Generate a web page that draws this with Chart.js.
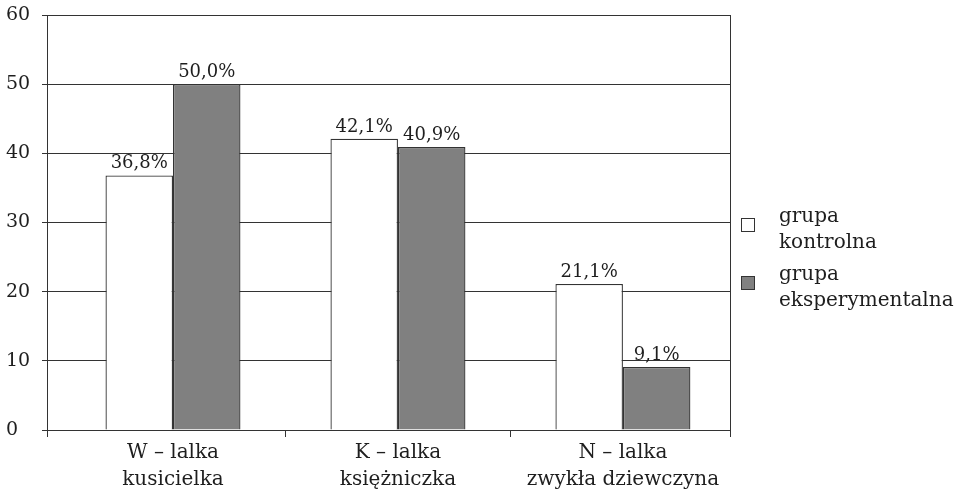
<!DOCTYPE html>
<html>
<head>
<meta charset="utf-8">
<script src="https://cdn.jsdelivr.net/npm/chart.js@4.4.1/dist/chart.umd.min.js"></script>
<style>
  html, body { margin: 0; padding: 0; background: #fff; }
  #wrap { position: relative; width: 961px; height: 490px; }
  #legend { position: absolute; left: 741px; top: 202px; font-family: "DejaVu Serif", serif; font-size: 20px; color: #1e1e1e; }
  .item { position: relative; padding-left: 38px; line-height: 26px; margin-bottom: 6px; }
  .sw { position: absolute; left: 0; top: 16px; width: 12px; height: 12px; border: 1px solid #333; }
</style>
</head>
<body>
<div id="wrap">
  <canvas id="c" width="961" height="490"></canvas>
  <div id="legend"></div>
</div>
<script>
const categories = [["W – lalka", "kusicielka"], ["K – lalka", "księżniczka"], ["N – lalka", "zwykła dziewczyna"]];
const seriesNames = [["grupa", "kontrolna"], ["grupa", "eksperymentalna"]];
const controlValues = [36.8, 42.1, 21.1];
const experimentalValues = [50.0, 40.9, 9.1];
const yTicks = [0, 10, 20, 30, 40, 50, 60];
const fills = ["#ffffff", "#808080"];

const FONT = "'DejaVu Serif', serif";
const LINE = "#333333";
const TEXT = "#1e1e1e";
const XMIN = -0.56, XMAX = 2.476;
const boundaries = [XMIN, 0.5, 1.5, XMAX];

const labelPlugin = {
  id: 'barLabels',
  afterDatasetsDraw(chart) {
    const ctx = chart.ctx;
    ctx.save();
    ctx.font = "18px " + FONT;
    ctx.fillStyle = TEXT;
    ctx.textAlign = "center";
    ctx.textBaseline = "alphabetic";
    chart.data.datasets.forEach((ds, di) => {
      const meta = chart.getDatasetMeta(di);
      meta.data.forEach((el, i) => {
        const v = ds.data[i].y;
        ctx.fillText(v.toFixed(1).replace('.', ',') + '%', el.x, el.y - 7);
      });
    });
    ctx.restore();
  }
};

const datasets = [controlValues, experimentalValues].map((vals, si) => ({
  label: seriesNames[si].join(' '),
  data: vals.map((v, i) => ({ x: i, y: v })),
  backgroundColor: fills[si],
  borderColor: "#333333",
  borderWidth: 1.3,
  xAxisID: 'x',
  yAxisID: 'y',
  categoryPercentage: 0.6,
  barPercentage: 1.0
}));

new Chart(document.getElementById('c'), {
  type: 'bar',
  data: { datasets },
  plugins: [labelPlugin],
  options: {
    responsive: false,
    animation: false,
    layout: { padding: { left: 6, right: 231, top: 15, bottom: 0 } },
    plugins: { legend: { display: false }, tooltip: { enabled: false } },
    scales: {
      y: {
        type: 'linear', position: 'left', min: 0, max: 60,
        afterBuildTicks: s => { s.ticks = yTicks.map(v => ({ value: v })); },
        afterFit: s => { s.width = 41; },
        grid: { color: LINE, lineWidth: 1, tickLength: 5, drawTicks: true },
        border: { display: true, color: LINE, width: 1 },
        ticks: { crossAlign: 'far', font: { family: FONT, size: 19 }, color: TEXT, padding: 0 }
      },
      yr: {
        type: 'linear', position: 'right', min: 0, max: 60, display: true,
        afterFit: s => { s.width = 0; },
        grid: { drawOnChartArea: false, drawTicks: false },
        border: { display: true, color: LINE, width: 1 },
        ticks: { display: false }
      },
      xb: {
        type: 'linear', position: 'bottom', min: XMIN, max: XMAX, weight: 0, offset: false,
        afterBuildTicks: s => { s.ticks = boundaries.map(v => ({ value: v })); },
        afterFit: s => { s.height = 7; },
        grid: { offset: false, drawOnChartArea: false, drawTicks: true, tickLength: 7, color: LINE },
        border: { display: true, color: LINE, width: 1 },
        ticks: { display: false }
      },
      x: {
        type: 'linear', position: 'bottom', min: XMIN, max: XMAX, weight: 1, offset: false,
        afterBuildTicks: s => { s.ticks = categories.map((c, i) => ({ value: i })); },
        afterFit: s => { s.height = 53; },
        grid: { offset: false, display: false, drawTicks: false },
        border: { display: false },
        ticks: {
          autoSkip: false, maxRotation: 0, minRotation: 0, padding: 2,
          font: { family: FONT, size: 20, lineHeight: '27px' }, color: TEXT,
          callback: (v, i) => categories[i]
        }
      }
    }
  }
});

const legend = document.getElementById('legend');
seriesNames.forEach((lines, i) => {
  const d = document.createElement('div');
  d.className = 'item';
  const sw = document.createElement('span');
  sw.className = 'sw';
  sw.style.background = fills[i];
  d.appendChild(sw);
  lines.forEach(t => { const l = document.createElement('div'); l.textContent = t; d.appendChild(l); });
  legend.appendChild(d);
});
</script>
</body>
</html>
